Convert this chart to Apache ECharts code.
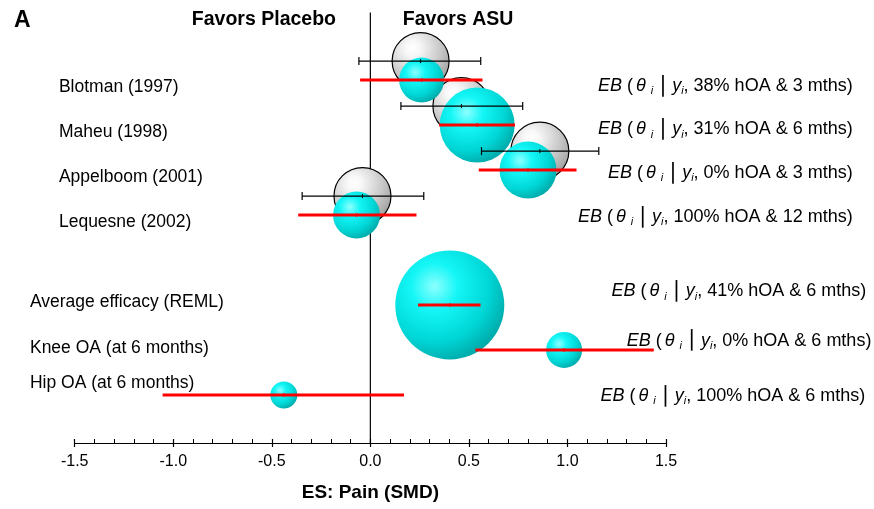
<!DOCTYPE html>
<html>
<head>
<meta charset="utf-8">
<script src="https://cdn.jsdelivr.net/npm/echarts@6/dist/echarts.min.js"></script>
<style>html,body{margin:0;padding:0;background:#fff}#c{width:874px;height:509px}</style>
</head>
<body>
<div id="c"></div>
<script>
// ---------------- data ----------------
const studyNames = ['Blotman (1997)', 'Maheu (1998)', 'Appelboom (2001)', 'Lequesne (2002)'];
const studyRow   = [1, 2, 3, 4];
const obsES      = [0.255, 0.462, 0.86, -0.04];
const obsLo      = [-0.058, 0.155, 0.564, -0.346];
const obsHi      = [0.56, 0.773, 1.159, 0.271];
const obsWeight  = [57, 57, 58, 57];

const ebNames  = ['Blotman (1997)', 'Maheu (1998)', 'Appelboom (2001)', 'Lequesne (2002)',
                  'Average efficacy (REML)', 'Knee OA (at 6 months)', 'Hip OA (at 6 months)'];
const ebRow    = [1, 2, 3, 4, 6, 7, 8];
const ebES     = [0.26, 0.542, 0.80, -0.07, 0.403, 0.983, -0.439];
const ebLo     = [-0.052, 0.349, 0.55, -0.366, 0.242, 0.533, -1.054];
const ebHi     = [0.569, 0.734, 1.046, 0.234, 0.559, 1.438, 0.171];
const ebWeight = [45, 75, 57, 47, 109, 36, 27];
const ebHOA    = ['38%', '31%', '0%', '100%', '41%', '0%', '100%'];
const ebMonths = ['3', '6', '3', '12', '6', '6', '6'];

const favorLabels = ['Favors Placebo', 'Favors ASU'];
const xTickMin = -1.5, xTickMax = 1.5, xTickStep = 0.5;

// ---------------- layout ----------------
const yMax = 9.567;
const grayOffset = 0.08, cyanOffset = 0.5;
const leftLabelX = [-1.58, -1.58, -1.58, -1.58, -1.727, -1.727, -1.727];
const leftLabelY = [1.65, 2.65, 3.65, 4.65, 6.43, 7.46, 8.24];
const rightLabelX = [2.447, 2.447, 2.447, 2.447, 2.516, 2.542, 2.511];
const rightLabelY = [1.63, 2.60, 3.57, 4.54, 6.20, 7.29, 8.52];
const favorX = [-0.54, 0.445], favorY = 0.16;

const FONT = 'Liberation Sans, Arial, Helvetica, sans-serif';
const GRID_TOP = 12.5, GRID_BOTTOM = 66, H = 509;

const grayFill = {type: 'radial', x: 0.36, y: 0.28, r: 0.8,
  colorStops: [{offset: 0, color: '#ffffff'}, {offset: 0.15, color: '#f8f8f8'},
               {offset: 0.38, color: '#e0e0e0'}, {offset: 0.62, color: '#c6c6c6'},
               {offset: 0.85, color: '#aaaaaa'}, {offset: 1, color: '#8c8c8c'}]};
const cyanFill = {type: 'radial', x: 0.36, y: 0.33, r: 0.72,
  colorStops: [{offset: 0, color: '#8dffff'}, {offset: 0.3, color: '#14f6f6'},
               {offset: 0.7, color: '#00d6d6'}, {offset: 1, color: '#00a8a8'}]};

const grayData = studyRow.map((r, i) => [obsES[i], r + grayOffset, obsWeight[i]]);
const cyanData = ebRow.map((r, i) => [ebES[i], r + cyanOffset, ebWeight[i]]);
const blackCI = studyRow.map((r, i) => [obsLo[i], obsHi[i], r + grayOffset, obsES[i]]);
const redCI = ebRow.map((r, i) => [ebLo[i], ebHi[i], r + cyanOffset, ebES[i]]);
const leftLabels = ebNames.map((n, i) => [leftLabelX[i], leftLabelY[i], n]);
const rightLabels = ebNames.map((n, i) => [rightLabelX[i], rightLabelY[i], i]);
const favorData = favorLabels.map((t, i) => [favorX[i], favorY, t]);

function ciRender(color, width, caps) {
  return function (params, api) {
    const a = api.coord([api.value(0), api.value(2)]);
    const b = api.coord([api.value(1), api.value(2)]);
    const m = api.coord([api.value(3), api.value(2)]);
    const st = {stroke: color, lineWidth: width};
    const children = [{type: 'line', shape: {x1: a[0], y1: a[1], x2: b[0], y2: b[1]}, style: st}];
    const ms = {stroke: color, lineWidth: 1};
    children.push({type: 'line', shape: {x1: m[0], y1: m[1] - 2, x2: m[0], y2: m[1] + 2}, style: ms});
    if (caps) {
      children.push({type: 'line', shape: {x1: a[0], y1: a[1] - 4, x2: a[0], y2: a[1] + 4}, style: st});
      children.push({type: 'line', shape: {x1: b[0], y1: b[1] - 4, x2: b[0], y2: b[1] + 4}, style: st});
    }
    return {type: 'group', children};
  };
}

const rich = {
  it: {fontStyle: 'italic', fontSize: 18, fontFamily: FONT, color: '#000'},
  th: {fontStyle: 'italic', fontSize: 18, fontFamily: FONT, color: '#000', padding: [0, 0, 0, 3]},
  n: {fontSize: 18, fontFamily: FONT, color: '#000'},
  sub: {fontStyle: 'italic', fontSize: 11, fontFamily: FONT, color: '#000', padding: [10, 0, 0, 0]},
  subi: {fontStyle: 'italic', fontSize: 11, fontFamily: FONT, color: '#000', padding: [10, 0, 0, 5]},
  bar: {fontSize: 22, fontFamily: 'DejaVu Sans, ' + FONT, color: '#000', padding: [0, 4, 0, 4]}
};

const chart = echarts.init(document.getElementById('c'), null, {renderer: 'canvas'});
chart.setOption({
  animation: false,
  backgroundColor: '#fff',
  grid: {left: 74.7, right: 874 - 666, top: GRID_TOP, bottom: GRID_BOTTOM},
  title: [
    {text: 'A', left: 9, top: 4, textStyle: {fontSize: 23, fontWeight: 'bold', fontFamily: FONT, color: '#000'}},
  ],
  xAxis: [{
    type: 'value', min: xTickMin, max: xTickMax, interval: xTickStep, position: 'bottom',
    axisLine: {onZero: false, lineStyle: {color: '#000', width: 1.2}},
    axisTick: {inside: true, length: 4, lineStyle: {color: '#000', width: 1.2}},
    minorTick: {show: true, splitNumber: 5, length: 4, lineStyle: {color: '#000', width: 1}},
    axisLabel: {margin: 11, fontSize: 16, fontFamily: FONT, color: '#000', formatter: v => v.toFixed(1)},
    splitLine: {show: false},
    name: 'ES: Pain (SMD)', nameLocation: 'middle', nameGap: 40,
    nameTextStyle: {fontSize: 19, fontWeight: 'bold', fontFamily: FONT, color: '#000'}
  }, {
    // same scale, moved onto the bottom edge, to draw the downward half of the major ticks
    type: 'value', min: xTickMin, max: xTickMax, interval: xTickStep, position: 'top',
    offset: -(H - GRID_TOP - GRID_BOTTOM),
    axisLine: {show: false},
    axisTick: {inside: true, length: 4, lineStyle: {color: '#000', width: 1.2}},
    axisLabel: {show: false}, splitLine: {show: false}
  }],
  yAxis: {type: 'value', min: 0, max: yMax, inverse: true, show: false},
  series: [
    {type: 'line', xAxisIndex: 0, data: [[0, 0], [0, yMax]], symbol: 'none', silent: true,
     lineStyle: {color: '#000', width: 1.2}, z: 1},
    {type: 'scatter', xAxisIndex: 0, data: grayData, symbolSize: v => v[2], z: 2, silent: true,
     itemStyle: {color: grayFill, borderColor: '#000', borderWidth: 1.2, opacity: 1}},
    {type: 'scatter', xAxisIndex: 0, data: cyanData, symbolSize: v => v[2], z: 3, silent: true,
     itemStyle: {color: cyanFill, opacity: 1}},
    {type: 'custom', xAxisIndex: 0, data: blackCI, renderItem: ciRender('#000', 1.2, true), z: 4, silent: true, clip: false},
    {type: 'custom', xAxisIndex: 0, data: redCI, renderItem: ciRender('#ff0000', 3, false), z: 5, silent: true, clip: false},
    {type: 'custom', xAxisIndex: 0, data: leftLabels, z: 6, silent: true, clip: false,
     renderItem: function (params, api) {
       const p = api.coord([api.value(0), api.value(1)]);
       return {type: 'text', x: p[0], y: p[1],
         style: {text: leftLabels[params.dataIndex][2], fill: '#000', font: '17.5px ' + FONT,
                 align: 'left', verticalAlign: 'middle'}};
     }},
    {type: 'custom', xAxisIndex: 0, data: rightLabels, z: 6, silent: true, clip: false,
     renderItem: function (params, api) {
       const p = api.coord([api.value(0), api.value(1)]);
       const i = params.dataIndex;
       const txt = '{it|EB}{n| (}{th|θ}{subi|i}{bar|\u2223}{it|y}{sub|i}{n|, ' + ebHOA[i] + ' hOA & ' + ebMonths[i] + ' mths)}';
       return {type: 'text', x: p[0], y: p[1],
         style: {text: txt, rich: rich, fill: '#000', font: '18px ' + FONT,
                 align: 'right', verticalAlign: 'middle'}};
     }},
    {type: 'custom', xAxisIndex: 0, data: favorData, z: 6, silent: true, clip: false,
     renderItem: function (params, api) {
       const p = api.coord([api.value(0), api.value(1)]);
       return {type: 'text', x: p[0], y: p[1],
         style: {text: favorData[params.dataIndex][2], fill: '#000',
                 font: 'bold 19.5px ' + FONT, align: 'center', verticalAlign: 'middle'}};
     }}
  ]
});
</script>
</body>
</html>
